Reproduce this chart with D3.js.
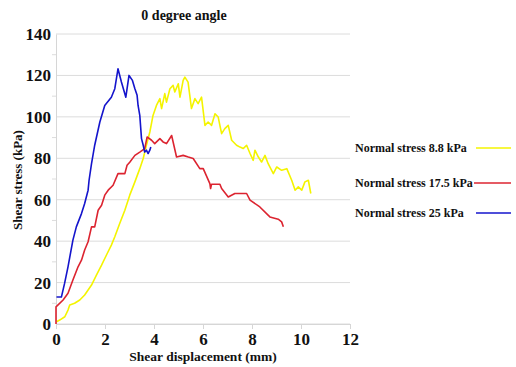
<!DOCTYPE html>
<html>
<head>
<meta charset="utf-8">
<script src="https://cdn.jsdelivr.net/npm/d3@7"></script>
<style>
  body { margin: 0; background: #fff; }
  text { font-family: "Liberation Serif", "Times New Roman", serif; font-weight: bold; fill: #111; }
</style>
</head>
<body>
<div id="chart"></div>
<script>
// shear displacement (mm) / shear stress (kPa)
const disp88 = [0.02,0.15,0.36,0.49,0.56,0.76,0.97,1.17,1.31,1.45,1.65,1.86,2.06,2.26,2.40,2.60,2.81,3.01,3.22,3.42,3.56,3.69,3.83,3.96,4.10,4.24,4.31,4.44,4.51,4.65,4.78,4.85,4.99,5.06,5.19,5.26,5.39,5.53,5.67,5.80,5.94,6.08,6.21,6.35,6.49,6.62,6.76,6.89,7.03,7.17,7.37,7.51,7.64,7.78,7.92,8.05,8.12,8.26,8.39,8.53,8.66,8.87,9.01,9.21,9.42,9.62,9.76,9.89,10.03,10.16,10.30,10.40];
const stress88 = [1.1,1.9,3.5,6.7,9.2,10,11.6,14,16.4,18.8,23.6,28.4,33.3,38.1,42.1,48.5,54.9,62.2,68.6,75,79.9,86.3,92.7,100.7,105.5,108.8,104,111.2,107.1,113.6,115.2,112,116,109.5,117.6,119.2,116.8,104,108.8,106.4,109.5,95.9,97.5,95.9,101.5,99.9,91.9,94.3,95.9,88.7,86.3,85.4,84.7,86.3,82.3,79,83.9,80.6,78.2,81.4,77.4,72.6,75.8,74.2,75,69.4,64.6,66.2,64.6,68.6,69.4,63];

const disp175 = [0,0,0.29,0.49,0.69,0.90,1.04,1.17,1.31,1.45,1.58,1.72,1.86,1.99,2.13,2.33,2.53,2.81,2.90,3.01,3.22,3.42,3.62,3.72,3.90,4.03,4.24,4.37,4.51,4.72,4.92,5.19,5.40,5.60,5.87,6.01,6.28,6.31,6.35,6.69,6.76,7.03,7.30,7.78,7.92,8.32,8.73,9.07,9.21,9.28];
const stress175 = [0,8.3,11.6,14.8,21.2,27.6,30.8,35.7,39.7,46.9,46.9,54.9,57.3,62.2,64.6,67,72.6,72.6,76.6,78.1,81.4,83,84.7,90.3,88.7,87.1,89.5,87.9,87.1,91,80.6,81.4,80.6,79.9,75,75,67.8,65.4,67.5,67.5,65.4,61.3,63,63,59.8,56.5,51.7,50.6,49.3,46.9];

const disp25 = [0.02,0.22,0.35,0.49,0.69,0.83,1.04,1.17,1.31,1.35,1.45,1.58,1.79,1.99,2.26,2.40,2.53,2.67,2.85,2.98,3.12,3.22,3.31,3.35,3.42,3.49,3.56,3.62,3.69,3.76,3.83,3.87];
const stress25 = [13,13,19.6,27.6,40.5,46.9,53.3,58.2,64.6,69.4,77.4,86.3,97.5,105.5,109.5,113.6,123.2,116.8,109.5,120,117.6,113.6,110.4,105.5,100.7,89.5,86.3,83,83.9,82.3,83.9,85.4];

const seriesNames = ["Normal stress 8.8 kPa", "Normal stress 17.5 kPa", "Normal stress 25 kPa"];
const seriesColors = ["#f4f400", "#dc2430", "#1414cc"];
const xTicks = [0, 2, 4, 6, 8, 10, 12];
const yTicks = [0, 20, 40, 60, 80, 100, 120, 140];

const W = 516, H = 367;
const margin = {top: 34, right: 166, bottom: 43, left: 56};
const width = W - margin.left - margin.right,
      height = H - margin.top - margin.bottom;

const svg = d3.select("#chart").append("svg")
    .attr("width", W)
    .attr("height", H);

const g = svg.append("g")
    .attr("transform", "translate(" + margin.left + "," + margin.top + ")");

const x = d3.scaleLinear().domain([0, 12]).range([0, width]);
const y = d3.scaleLinear().domain([0, 140]).range([height, 0]);

// gridlines
g.append("g")
    .selectAll("line")
    .data(yTicks)
    .join("line")
    .attr("x1", 0).attr("x2", width)
    .attr("y1", d => y(d)).attr("y2", d => y(d))
    .attr("stroke", "#dcdcdc");

// minor ticks on y
g.append("g")
    .selectAll("line")
    .data(d3.range(10, 140, 20))
    .join("line")
    .attr("x1", -4).attr("x2", 0)
    .attr("y1", d => y(d)).attr("y2", d => y(d))
    .attr("stroke", "#dcdcdc");

const xAxis = g.append("g")
    .attr("transform", "translate(0," + height + ")")
    .call(d3.axisBottom(x).tickValues(xTicks).tickSize(5).tickPadding(4));
xAxis.selectAll("text").style("font-size", "17px");

const yAxis = g.append("g")
    .call(d3.axisLeft(y).tickValues(yTicks).tickSize(0).tickPadding(5));
yAxis.selectAll("text").style("font-size", "17px");

g.selectAll(".domain, .tick line").attr("stroke", "#d6d6d6");

const line = d3.line()
    .x(d => x(d[0]))
    .y(d => y(d[1]));

const series = [
  d3.zip(disp88, stress88),
  d3.zip(disp175, stress175),
  d3.zip(disp25, stress25)
];

g.selectAll(".curve")
    .data(series)
    .join("path")
    .attr("class", "curve")
    .attr("d", line)
    .attr("fill", "none")
    .attr("stroke", (d, i) => seriesColors[i])
    .attr("stroke-width", 1.6)
    .attr("stroke-linejoin", "round");

// title and axis labels
svg.append("text")
    .attr("x", 184).attr("y", 20)
    .attr("text-anchor", "middle")
    .style("font-size", "14px")
    .text("0 degree angle");

svg.append("text")
    .attr("x", 203).attr("y", 361)
    .attr("text-anchor", "middle")
    .style("font-size", "13.5px")
    .text("Shear displacement (mm)");

svg.append("text")
    .attr("transform", "translate(22,180) rotate(-90)")
    .attr("text-anchor", "middle")
    .style("font-size", "13px")
    .text("Shear stress (kPa)");

// legend
const legY = [148, 183, 213];
const legend = svg.append("g")
    .selectAll("g")
    .data(seriesNames)
    .join("g")
    .attr("transform", (d, i) => "translate(355," + legY[i] + ")");

legend.append("text")
    .attr("y", 4)
    .style("font-size", "12px")
    .text(d => d);

legend.append("line")
    .attr("x1", (d, i) => [121, 119, 121][i]).attr("x2", 156)
    .attr("stroke", (d, i) => seriesColors[i])
    .attr("stroke-width", 1.6);
</script>
</body>
</html>
